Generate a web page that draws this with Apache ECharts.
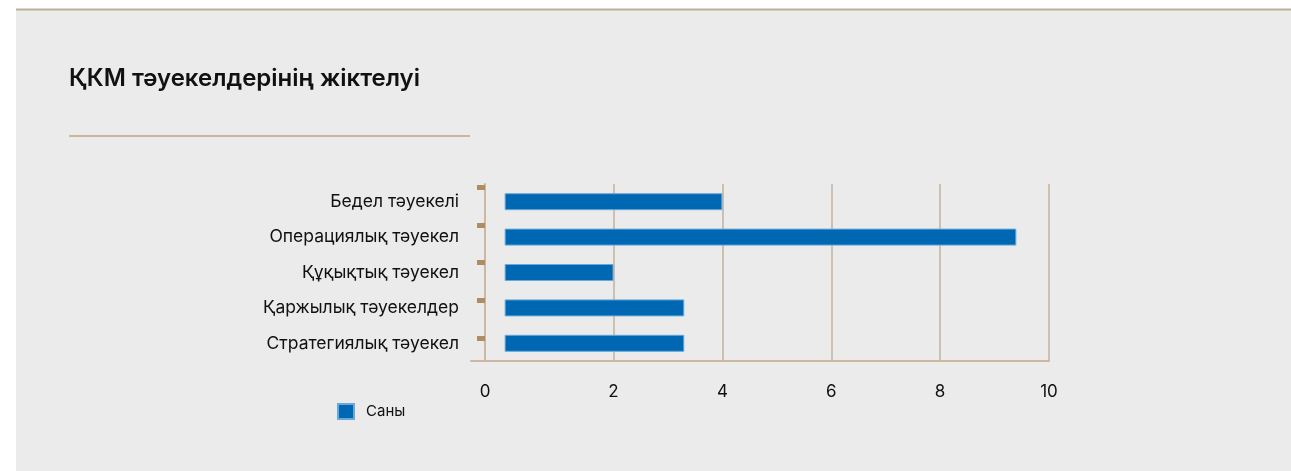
<!DOCTYPE html>
<html>
<head>
<meta charset="utf-8">
<script src="https://cdn.jsdelivr.net/npm/echarts@6/dist/echarts.min.js"></script>
<style>
html,body{margin:0;padding:0;background:#fff;}
#chart{width:1291px;height:471px;}
</style>
</head>
<body>
<div id="chart"></div>
<script>
const categories = ['Бедел тәуекелі', 'Операциялық тәуекел', 'Құқықтық тәуекел', 'Қаржылық тәуекелдер', 'Стратегиялық тәуекел'];
const values = [4, 9.4, 2, 3.3, 3.3];
const seriesName = 'Саны';
const titleText = 'ҚКМ тәуекелдерінің жіктелуі';
const xMin = -0.618;
const xMax = 10;
const xZeroLabelAt = -0.36;
const xTickValues = [xZeroLabelAt, 2, 4, 6, 8, 10];
const xTickLabels = ['0', '2', '4', '6', '8', '10'];
// y-axis tick marks (the reference draws 5 marks on its own spacing)
const yTickMin = -0.078;
const yTickMax = 4.597;
const yTickValues = [0, 1, 2, 3, 4];

const FONT = 'Inter, "Noto Sans", sans-serif';
const chart = echarts.init(document.getElementById('chart'), null, {renderer: 'canvas'});
chart.setOption({
  backgroundColor: '#ffffff',
  animation: false,
  graphic: [
    {type: 'rect', z: -10, shape: {x: 16, y: 10, width: 1275, height: 461}, style: {fill: '#ebebeb'}},
    {type: 'rect', z: -9, shape: {x: 16, y: 8.5, width: 1275, height: 2}, style: {fill: '#bcad9c'}},
    {type: 'rect', z: -9, shape: {x: 69, y: 135, width: 401, height: 2}, style: {fill: '#cdb79c'}}
  ],
  title: {
    text: titleText,
    left: 64, top: 62,
    textStyle: {fontFamily: FONT, fontSize: 24, fontWeight: 600, color: '#111111'}
  },
  legend: {
    left: 337, top: 403, padding: 0,
    itemWidth: 16, itemHeight: 15, itemGap: 10,
    icon: 'rect',
    textStyle: {fontFamily: FONT, fontSize: 15, color: '#111111', padding: [0, 0, 0, 7]},
    data: [seriesName]
  },
  grid: {left: 471, right: 242, top: 184, bottom: 110, containLabel: false},
  xAxis: {
    type: 'value',
    min: xMin, max: xMax,
    axisLine: {show: true, onZero: false, lineStyle: {color: '#ccb8a0', width: 2}},
    axisTick: {show: false, customValues: xTickValues},
    splitLine: {show: true, lineStyle: {color: '#c4b29c', width: 1.5}},
    axisLabel: {
      customValues: xTickValues,
      margin: 22,
      fontFamily: FONT, fontSize: 17, color: '#111111',
      formatter: function (v) {
        const i = xTickValues.indexOf(v);
        return i >= 0 ? xTickLabels[i] : '';
      }
    }
  },
  yAxis: [{
    type: 'category',
    inverse: true,
    position: 'left',
    offset: -14,
    data: categories,
    axisLine: {show: true, onZero: false, lineStyle: {color: '#ccb8a0', width: 2}},
    axisTick: {show: false},
    axisLabel: {margin: 26, fontFamily: FONT, fontSize: 17.5, color: '#111111'},
    splitLine: {show: false}
  }, {
    type: 'value',
    inverse: true,
    position: 'left',
    offset: -14,
    min: yTickMin, max: yTickMax,
    axisLine: {show: false, onZero: false},
    axisTick: {show: true, length: 8, customValues: yTickValues, lineStyle: {color: '#b08c64', width: 5}},
    axisLabel: {show: false, customValues: yTickValues},
    splitLine: {show: false}
  }],
  series: [{
    name: seriesName,
    type: 'bar',
    yAxisIndex: 0,
    data: values,
    barWidth: 17,
    itemStyle: {color: '#0068b3', borderColor: '#6aa8dc', borderWidth: 1}
  }]
});
</script>
</body>
</html>
